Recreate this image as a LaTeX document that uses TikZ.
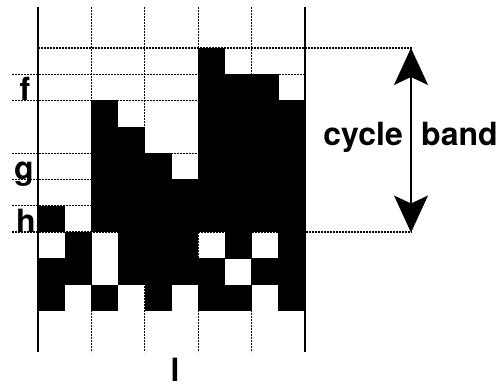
\documentclass[tikz,border=0pt]{standalone}
\usepackage{fontspec}
\setmainfont{TeX Gyre Heros}
\usetikzlibrary{arrows.meta}
\begin{document}
\begin{tikzpicture}[x=1pt,y=-1pt,
  gridline/.style={line width=1.3pt, dash pattern=on 1.6pt off 1.4pt},
  frameline/.style={line width=1.8pt},
  cell/.style={fill=black},
  lab/.style={font=\fontsize{32}{32}\selectfont\bfseries, inner sep=0pt, anchor=base},
  band/.style={line width=1.5pt, {Stealth[length=37pt,width=34pt,inset=8pt]}-{Stealth[length=37pt,width=34pt,inset=8pt]}}]
  \useasboundingbox (0,0) rectangle (498,384);
  % cell size
  \def\cw{26.7}\def\ch{26.3}
  % column-pair boundaries
  \draw[frameline] (38,7) -- (38,352);
  \draw[frameline] (305,7) -- (305,352);
  \foreach \i in {2,4,6,8}
    \draw[gridline] ({38+\i*\cw},7) -- ({38+\i*\cw},352);
  % level lines
  \draw[gridline] (38,48) -- (412,48);
  \foreach \j in {1,2,4,5,6}
    \draw[gridline] (12,{48+\j*\ch}) -- (305,{48+\j*\ch});
  \draw[gridline] (12,{48+7*\ch}) -- (412,{48+7*\ch});
  % occupied cells: column / list of rows
  \foreach \c/\rows in {0/{6,8,9}, 1/{7,8}, 2/{2,3,4,5,6,9}, 3/{3,4,5,6,7,8},
      4/{4,5,6,7,8,9}, 5/{5,6,7,8}, 6/{0,1,2,3,4,5,6,8,9}, 7/{1,2,3,4,5,6,7,9},
      8/{1,2,3,4,5,6,8}, 9/{2,3,4,5,6,7,8,9}}
    \foreach \r in \rows
      \fill[cell] ({38+\c*\cw-0.2},{48+\r*\ch-0.2}) rectangle ({38+(\c+1)*\cw+0.2},{48+(\r+1)*\ch+0.2});
  % level labels
  \node[lab] (f) at (25,100) {f};
  \node[lab] (g) at (24,179) {g};
  \node[lab] (h) at (26,232) {h};
  \node[lab] (l) at (175,381) {l};
  % cycle band arrow
  \coordinate (bandtop) at (411,48);
  \coordinate (bandbot) at (411,232.5);
  \draw[band] (bandtop) -- (bandbot);
  \node[lab, anchor=base east] (cyc) at (403,145) {cycle};
  \node[lab, anchor=base west] (bnd) at (421,145) {band};
\end{tikzpicture}
\end{document}
